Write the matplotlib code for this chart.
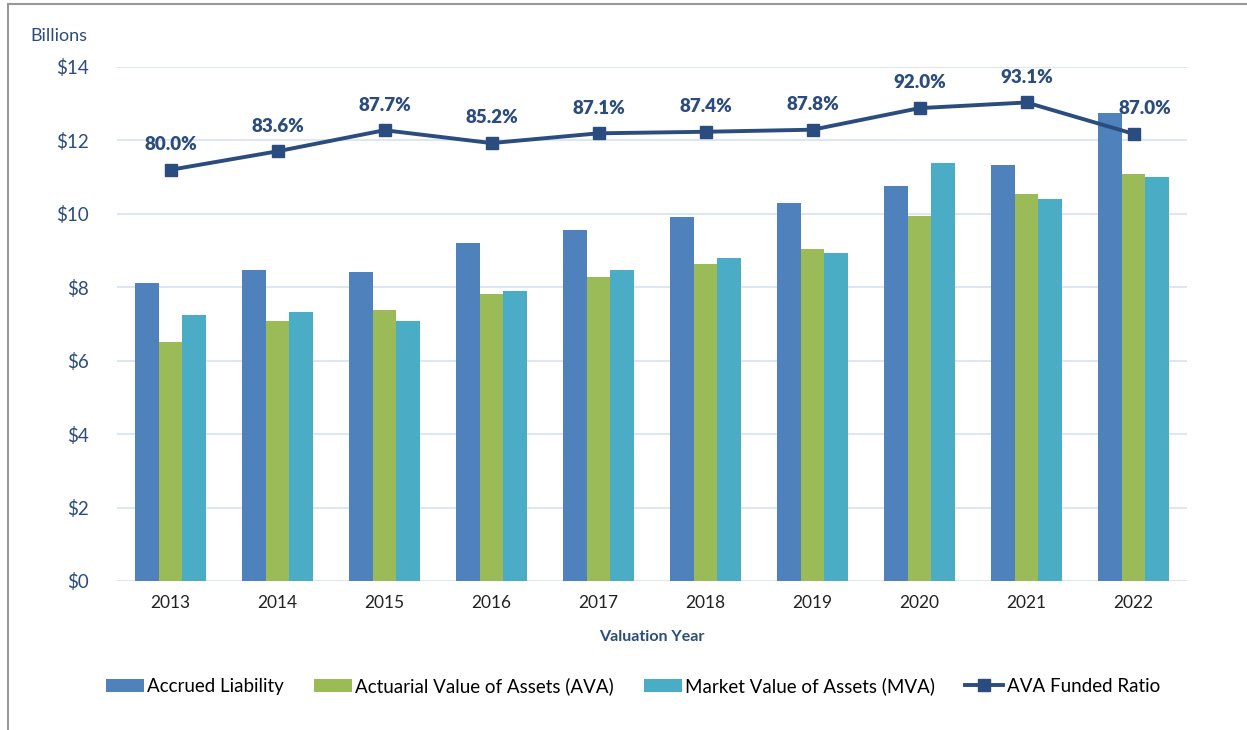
import matplotlib.pyplot as plt
import numpy as np
from matplotlib.lines import Line2D

plt.rcParams['font.family'] = ['Lato', 'DejaVu Sans']

years = ['2013', '2014', '2015', '2016', '2017', '2018', '2019', '2020', '2021', '2022']
accrued = [8.12, 8.47, 8.42, 9.21, 9.56, 9.92, 10.30, 10.76, 11.33, 12.75]
ava = [6.51, 7.08, 7.38, 7.82, 8.28, 8.64, 9.04, 9.94, 10.54, 11.09]
mva = [7.25, 7.33, 7.08, 7.90, 8.47, 8.80, 8.93, 11.39, 10.41, 11.01]
funded = [80.0, 83.6, 87.7, 85.2, 87.1, 87.4, 87.8, 92.0, 93.1, 87.0]

navy = '#2B4C7E'
grid_c = '#D6E2F2'

fig = plt.figure(figsize=(12.47, 7.3), dpi=100)
ax = fig.add_axes([117 / 1247, 1 - 581 / 730, 1070 / 1247, 514 / 730])

x = np.arange(len(years))
w = 0.222
ax.bar(x - w, accrued, w, color='#4F81BD', label='Accrued Liability', zorder=3)
ax.bar(x, ava, w, color='#9BBB59', label='Actuarial Value of Assets (AVA)', zorder=3)
ax.bar(x + w, mva, w, color='#4BACC6', label='Market Value of Assets (MVA)', zorder=3)

ax.set_xlim(-0.5, len(years) - 0.5)
ax.set_ylim(0, 14)
ax.set_yticks(range(0, 15, 2))
ax.set_yticklabels(['$%d' % v for v in range(0, 15, 2)], color=navy, fontsize=13.5)
ax.set_xticks(x)
ax.set_xticklabels(years, fontsize=12.5, color='#222222')
ax.tick_params(length=0)
ax.tick_params(axis='y', pad=20)
ax.tick_params(axis='x', pad=10)
ax.grid(axis='y', color=grid_c, linewidth=1.2, zorder=0)
for s in ax.spines.values():
    s.set_visible(False)
ax.set_xlabel('Valuation Year', fontsize=11.5, fontweight='bold', color=navy, labelpad=14)

ax2 = ax.twinx()
ax2.set_ylim(0, 100)
ax2.set_yticks([])
for s in ax2.spines.values():
    s.set_visible(False)
ax2.plot(x, funded, color=navy, linewidth=2.8, marker='s', markersize=8,
         label='AVA Funded Ratio', zorder=4)
for i, v in enumerate(funded):
    dx = 8 if i == len(funded) - 1 else 0
    ax2.annotate('%.1f%%' % v, (x[i], v), xytext=(dx, 12), textcoords='offset points',
                 ha='center', va='bottom', fontsize=13.5, fontweight='heavy', color=navy)

fig.text(30 / 1247, 1 - 36 / 730, 'Billions', fontsize=13, color=navy, va='center', ha='left')

handles = ax.get_legend_handles_labels()[0] + ax2.get_legend_handles_labels()[0]
labels = ax.get_legend_handles_labels()[1] + ax2.get_legend_handles_labels()[1]
fig.legend(handles, labels, loc='center', bbox_to_anchor=(633 / 1247, 1 - 686 / 730),
           ncol=4, frameon=False, fontsize=13.5, handlelength=2.0, handletextpad=0.2,
           columnspacing=1.6)

fig.add_artist(Line2D([8 / 1247, 1], [1 - 4 / 730, 1 - 4 / 730], color='#999999', linewidth=1.5))
fig.add_artist(Line2D([8 / 1247, 8 / 1247], [0, 1 - 4 / 730], color='#999999', linewidth=1.5))

fig.savefig('out.png', dpi=100)
